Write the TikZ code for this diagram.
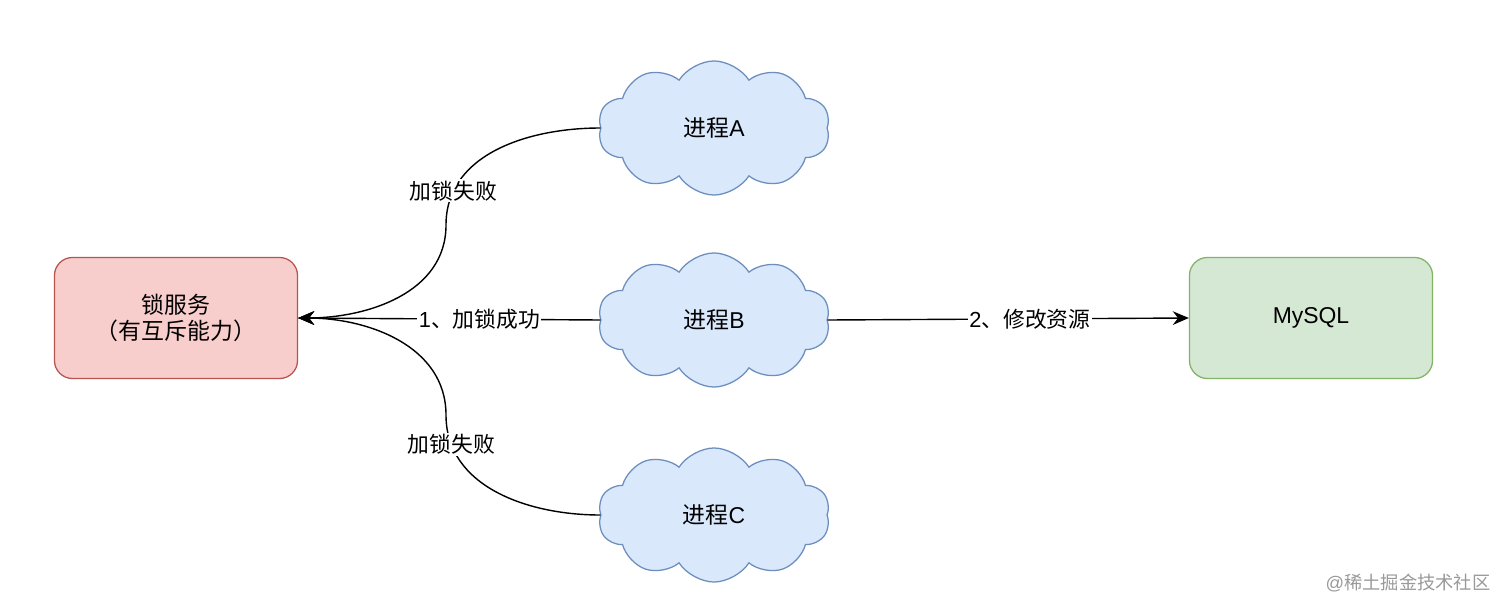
\documentclass[tikz,border=0pt]{standalone}
\usepackage{fontspec}
\setmainfont{Liberation Sans}
\newfontfamily\cjk{Noto Sans CJK SC}
\usetikzlibrary{shapes.symbols,arrows.meta}
\definecolor{lockfill}{HTML}{F8CECC}
\definecolor{lockline}{HTML}{B85450}
\definecolor{dbfill}{HTML}{D5E8D4}
\definecolor{dbline}{HTML}{82B366}
\definecolor{procfill}{HTML}{DAE8FC}
\definecolor{procline}{HTML}{6C8EBF}
\tikzset{
  box/.style={rounded corners=0.45cm, line width=0.9pt, minimum width=6.075cm, minimum height=3.025cm, align=center, font=\fontsize{16.3}{18.5}\selectfont},
  proc/.style={cloud, cloud puffs=10, cloud puff arc=115, cloud ignores aspect, draw=procline, fill=procfill, line width=0.9pt, minimum width=5.8cm, minimum height=3.35cm, font=\fontsize{16.3}{18.5}\selectfont},
  lbl/.style={fill=white, inner sep=1pt, font=\fontsize{15.5}{18}\selectfont},
  edge/.style={line width=1pt, -{Stealth[length=0.4cm,width=0.34cm]}}
}
\begin{document}
\begin{tikzpicture}[x=0.025cm,y=-0.025cm]
\useasboundingbox (0,0) rectangle (1512,612);
\node[box, draw=lockline, fill=lockfill] (lock) at (176,318) {\cjk 锁服务\\\cjk （有互斥能力）};
\node[box, draw=dbline, fill=dbfill] (db) at (1311,318) {MySQL};
\node[proc] (pA) at (714,128) {{\cjk 进程}A};
\node[proc] (pB) at (714,320) {{\cjk 进程}B};
\node[proc] (pC) at (714,515) {{\cjk 进程}C};
\coordinate (kA) at (446,225);
\coordinate (kC) at (446,415);
\draw[edge] (pA.west) to[out=180,in=90] node[lbl,pos=0.82] {\cjk 加锁失败} (kA) to[out=270,in=0] (lock.east);
\draw[edge] (pC.west) to[out=180,in=270] node[lbl,pos=0.85] {\cjk 加锁失败} (kC) to[out=90,in=0] (lock.east);
\draw[edge] (pB.west) -- node[lbl,pos=0.4] {1{\cjk 、加锁成功}} (lock.east);
\draw[edge] (pB.east) -- node[lbl,pos=0.56] {2{\cjk 、修改资源}} (db.west);
\node[text=black!40, font=\fontsize{13}{16}\selectfont] (mark) at (1408,583) {@{\cjk 稀土掘金技术社区}};
\end{tikzpicture}
\end{document}
